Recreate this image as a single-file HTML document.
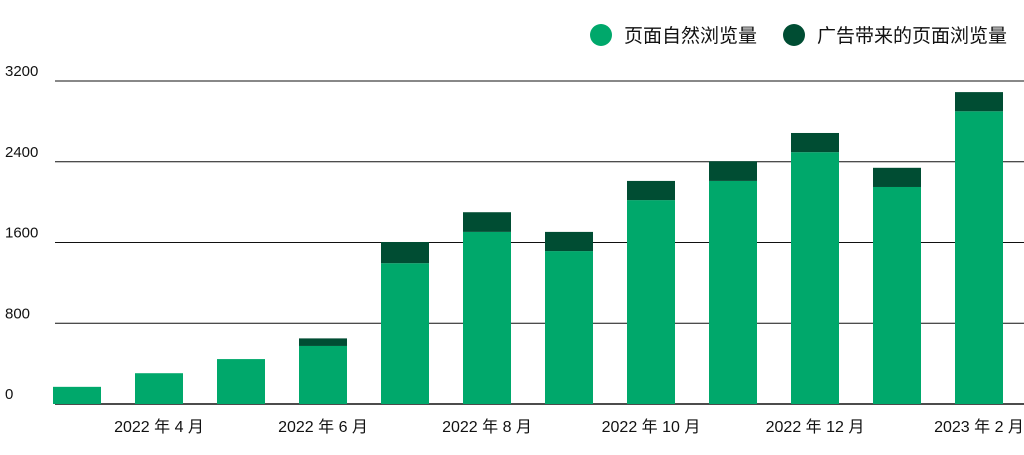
<!DOCTYPE html>
<html><head><meta charset="utf-8"><style>
html,body{margin:0;padding:0;background:#fff;}
svg{display:block;font-family:"Liberation Sans","Noto Sans CJK SC",sans-serif;}
</style></head><body>
<svg width="1024" height="455" viewBox="0 0 1024 455">
<g id="legend">
<g>
<circle cx="601" cy="35" r="11" fill="#00a86b"/>
<text x="624" y="42" font-size="19" fill="#111">页面自然浏览量</text></g>
<g>
<circle cx="794" cy="35" r="11" fill="#004d33"/>
<text x="817" y="42" font-size="19" fill="#111">广告带来的页面浏览量</text></g>
</g>
<g id="grid"></g>
<g id="bars"></g>
<g id="xlabels"></g>
</svg>
<script>
const categories = ["2022-03","2022-04","2022-05","2022-06","2022-07","2022-08","2022-09","2022-10","2022-11","2022-12","2023-01","2023-02"];
const organic = [170,305,445,575,1395,1705,1515,2020,2210,2495,2150,2900];
const ads = [0,0,0,75,210,195,190,190,195,190,190,190];
const yTicks = [0,800,1600,2400,3200];
const xLabels = ["","2022 年 4 月","","2022 年 6 月","","2022 年 8 月","","2022 年 10 月","","2022 年 12 月","","2023 年 2 月"];
const NS="http://www.w3.org/2000/svg";
const y0=404, yTop=81, yMax=3200, x0=36, step=82, bw=48;
const y=v=>y0-(v/yMax)*(y0-yTop);
const xc=i=>x0+step*(i+0.5);
function mk(t,a,p){const e=document.createElementNS(NS,t);for(const k in a)e.setAttribute(k,a[k]);p.appendChild(e);return e;}
const grid=document.getElementById('grid');
yTicks.forEach(v=>{
  const l=mk('line',{x1:55,x2:1024,y1:y(v),y2:y(v),stroke:'#111','stroke-width':v===0?1.5:1},grid);
  
  
  const t=mk('text',{x:5,y:y(v)-5,'font-size':15,fill:'#111'},grid);
  t.textContent=v;
  
  
});
const bars=document.getElementById('bars');
categories.forEach((c,i)=>{
  const x=xc(i)-bw/2;
  const r1=mk('rect',{x:x,y:y(organic[i]),width:bw,height:y0-y(organic[i]),fill:'#00a86b'},bars);
  
  
  if(ads[i]>0){
    const tot=organic[i]+ads[i];
    const r2=mk('rect',{x:x,y:y(tot),width:bw,height:y(organic[i])-y(tot),fill:'#004d33'},bars);
    
    
  }
});
const xl=document.getElementById('xlabels');
xLabels.forEach((s,i)=>{
  if(!s)return;
  const t=mk('text',{x:xc(i),y:432,'font-size':16,fill:'#111','text-anchor':'middle'},xl);
  t.textContent=s;
  
  
});
</script>
</body></html>
